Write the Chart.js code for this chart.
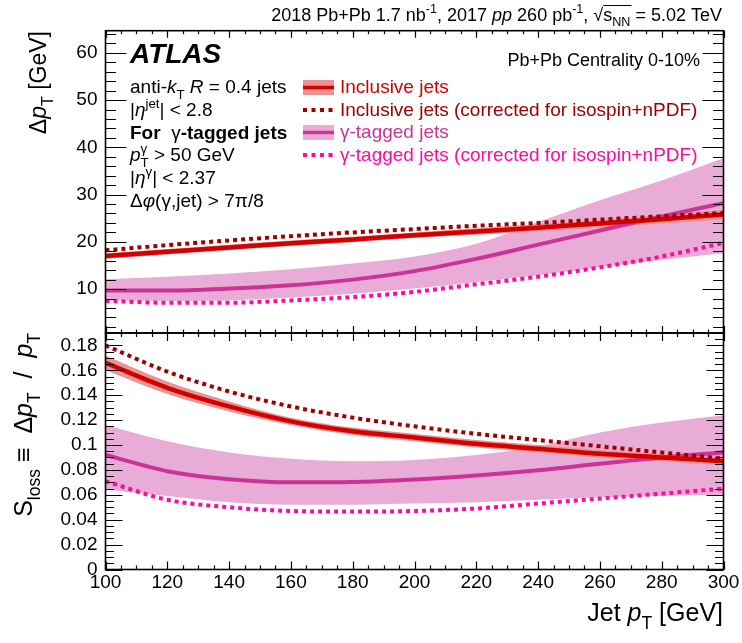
<!DOCTYPE html>
<html>
<head>
<meta charset="utf-8">
<script src="https://cdn.jsdelivr.net/npm/chart.js@4.4.0/dist/chart.umd.min.js"></script>
<style>
  html, body { margin: 0; padding: 0; background: #fff; width: 742px; height: 643px; overflow: hidden; }
  canvas { position: absolute; left: 0; }
  #top { top: 0; }
  #bot { top: 320px; }
</style>
</head>
<body>
<canvas id="top" width="742" height="340"></canvas>
<canvas id="bot" width="742" height="323"></canvas>
<script>
(() => {
  'use strict'

  // jet pT (GeV)
  const jetPt = [100, 120, 140, 160, 180, 200, 220, 240, 260, 280, 300]

  // top panel: delta pT (GeV)
  const inclTop     = [17.0, 17.9, 18.8, 19.7, 20.5, 21.4, 22.2, 23.0, 23.9, 24.8, 25.8]
  const inclTopLo   = [16.4, 17.3, 18.2, 19.1, 19.9, 20.8, 21.5, 22.3, 23.1, 23.9, 24.8]
  const inclTopHi   = [17.6, 18.5, 19.4, 20.3, 21.1, 22.0, 22.9, 23.7, 24.7, 25.7, 26.8]
  const inclCorrTop = [18.2, 19.3, 20.3, 21.2, 22.0, 22.7, 23.4, 24.0, 24.7, 25.4, 26.1]
  const gamTop      = [9.7, 9.7, 10.1, 10.8, 12.0, 13.8, 16.4, 19.4, 22.4, 25.4, 28.2]
  const gamTopLo    = [7.6, 7.5, 7.6, 8.2, 9.0, 10.1, 11.5, 12.9, 14.6, 16.2, 17.6]
  const gamTopHi    = [12.1, 12.6, 13.3, 14.2, 15.4, 16.9, 19.6, 24.2, 28.8, 33.0, 37.7]
  const gamCorrTop  = [7.5, 7.1, 7.1, 7.6, 8.3, 9.4, 11.0, 12.6, 14.6, 16.9, 19.8]

  // bottom panel: S_loss
  const inclBot     = [0.166, 0.146, 0.131, 0.119, 0.111, 0.106, 0.101, 0.097, 0.093, 0.090, 0.087]
  const inclBotLo   = [0.160, 0.141, 0.127, 0.116, 0.108, 0.103, 0.098, 0.094, 0.090, 0.087, 0.084]
  const inclBotHi   = [0.172, 0.151, 0.135, 0.122, 0.114, 0.109, 0.104, 0.100, 0.096, 0.093, 0.090]
  const inclCorrBot = [0.180, 0.159, 0.143, 0.131, 0.122, 0.115, 0.109, 0.104, 0.099, 0.094, 0.089]
  const gamBot      = [0.092, 0.079, 0.0725, 0.0700, 0.0703, 0.0723, 0.0755, 0.0797, 0.0850, 0.0900, 0.0940]
  const gamBotLo    = [0.064, 0.059, 0.054, 0.052, 0.052, 0.053, 0.054, 0.056, 0.058, 0.059, 0.060]
  const gamBotHi    = [0.116, 0.103, 0.094, 0.089, 0.087, 0.088, 0.092, 0.099, 0.110, 0.118, 0.124]
  const gamCorrBot  = [0.071, 0.056, 0.050, 0.047, 0.0465, 0.047, 0.049, 0.053, 0.057, 0.061, 0.065]

  // ticks
  const xTicks = [100, 120, 140, 160, 180, 200, 220, 240, 260, 280, 300]
  const yTopTicks = [10, 20, 30, 40, 50, 60]
  const yBotTicks = [0, 0.02, 0.04, 0.06, 0.08, 0.1, 0.12, 0.14, 0.16, 0.18]
  const yBotLabels = ['0', '0.02', '0.04', '0.06', '0.08', '0.1', '0.12', '0.14', '0.16', '0.18']

  const legendLabels = [
    'Inclusive jets',
    'Inclusive jets (corrected for isospin+nPDF)',
    'γ-tagged jets',
    'γ-tagged jets (corrected for isospin+nPDF)'
  ]

  const RED = '#d40000'
  const RED_BAND = '#e99393'
  const DRED = '#a00000'
  const MAG = '#cc3399'
  const MAG_BAND = '#e8acd6'
  const PINK = '#ff0aa0'
  const legendColors = [RED, DRED, MAG, PINK]

  const FF = '"Liberation Sans", Arial, sans-serif'
  const fnt = (size, st) =>
    (st.includes('i') ? 'italic ' : '') + (st.includes('b') ? 'bold ' : '') + size + 'px ' + FF

  // draw text made of pieces: i italic, b bold, _ sub, ^ sup, o no advance, v overline
  function rich(ctx, parts, x, y, size, color, align) {
    const segs = parts.map(p => {
      const st = p[1] || ''
      const s = (st.includes('_') || st.includes('^')) ? size * 0.7 : size
      ctx.font = fnt(s, st)
      return { t: p[0], st, s, w: ctx.measureText(p[0]).width }
    })
    let total = 0
    segs.forEach(g => { if (!g.st.includes('o')) total += g.w })
    let cx = align === 'right' ? x - total : x
    ctx.fillStyle = color
    ctx.strokeStyle = color
    ctx.textAlign = 'left'
    ctx.textBaseline = 'alphabetic'
    segs.forEach(g => {
      ctx.font = fnt(g.s, g.st)
      let dy = 0
      if (g.st.includes('_')) dy = size * 0.3
      if (g.st.includes('^')) dy = -size * 0.42
      ctx.fillText(g.t, cx, y + dy)
      if (g.st.includes('v')) {
        ctx.lineWidth = 1
        ctx.beginPath()
        ctx.moveTo(cx, y - size * 0.86)
        ctx.lineTo(cx + g.w + 1, y - size * 0.86)
        ctx.stroke()
      }
      if (!g.st.includes('o')) cx += g.w
    })
  }

  function richUp(ctx, parts, x, y, size) {
    ctx.save()
    ctx.translate(x, y)
    ctx.rotate(-Math.PI / 2)
    rich(ctx, parts, 0, 0, size, '#000', 'right')
    ctx.restore()
  }

  // ROOT-like frame with inward ticks on all four sides
  function drawFrame(chart, o) {
    const { ctx, chartArea: a, scales: { x, y } } = chart
    ctx.save()
    ctx.strokeStyle = '#000'
    ctx.lineWidth = 1.2
    ctx.beginPath()
    const yn0 = Math.ceil(y.min / o.yMinor - 1e-6)
    const yn1 = Math.floor(y.max / o.yMinor + 1e-6)
    for (let n = yn0; n <= yn1; n++) {
      const py = Math.round(y.getPixelForValue(n * o.yMinor)) + 0.5
      const len = n % o.yEvery === 0 ? o.yMajor : o.yMajor / 2
      ctx.moveTo(a.left, py); ctx.lineTo(a.left + len, py)
      ctx.moveTo(a.right, py); ctx.lineTo(a.right - len, py)
    }
    for (let n = 0; n <= 40; n++) {
      const px = Math.round(x.getPixelForValue(100 + n * 5)) + 0.5
      const len = n % 4 === 0 ? o.xMajor : o.xMajor / 2
      ctx.moveTo(px, a.bottom); ctx.lineTo(px, a.bottom - len)
      ctx.moveTo(px, a.top); ctx.lineTo(px, a.top + len)
    }
    ctx.stroke()
    ctx.lineWidth = 1.6
    ctx.strokeRect(a.left, a.top, a.right - a.left, a.bottom - a.top)
    ctx.restore()
  }

  const pts = ys => jetPt.map((x, i) => ({ x, y: ys[i] }))

  const datasets = (c, cc, cLo, cHi, g, gc, gLo, gHi) => [
    { data: pts(cc), borderColor: DRED, borderWidth: 4, borderDash: [4, 4], order: 0 },
    { data: pts(gc), borderColor: PINK, borderWidth: 4, borderDash: [4, 4], order: 0 },
    { data: pts(c), borderColor: RED, borderWidth: 4.5, order: 1 },
    { data: pts(g), borderColor: MAG, borderWidth: 4, order: 2 },
    { data: pts(cHi), borderWidth: 0, order: 3 },
    { data: pts(cLo), borderWidth: 0, fill: '-1', backgroundColor: RED_BAND, order: 3 },
    { data: pts(gHi), borderWidth: 0, order: 4 },
    { data: pts(gLo), borderWidth: 0, fill: '-1', backgroundColor: MAG_BAND, order: 4 }
  ]

  const common = {
    responsive: false,
    animation: false,
    events: [],
    elements: { point: { radius: 0 }, line: { cubicInterpolationMode: 'monotone', borderCapStyle: 'butt' } },
    plugins: { legend: { display: false }, tooltip: { enabled: false } }
  }
  const tickFont = { family: FF, size: 19 }
  // keep the plot frame exactly where the layout padding puts it
  const noPad = s => { s.paddingTop = 0; s.paddingBottom = 0; s.paddingLeft = 0; s.paddingRight = 0 }

  const topDecor = {
    id: 'topDecor',
    afterDatasetsDraw(chart) {
      drawFrame(chart, { yMinor: 2, yEvery: 5, yMajor: 21, xMajor: 7 })
    },
    afterDraw(chart) {
      const ctx = chart.ctx
      rich(ctx, [['2018 Pb+Pb 1.7 nb'], ['-1', '^'], [', 2017 '], ['pp', 'i'], [' 260 pb'], ['-1', '^'],
        [', '], ['√'], ['s', 'v'], ['NN', '_v'], [' = 5.02 TeV']], 722, 21, 18, '#000', 'right')

      ctx.font = 'italic bold 28px ' + FF
      ctx.fillStyle = '#000'
      ctx.fillText('ATLAS', 130, 63)
      rich(ctx, [['Pb+Pb Centrality 0-10%']], 700, 66, 18, '#000', 'right')

      const info = [
        [['anti-'], ['k', 'i'], ['T', '_'], [' '], ['R', 'i'], [' = 0.4 jets']],
        [['|'], ['η', 'i'], ['jet', '^'], ['| < 2.8']],
        [['For ', 'b'], [' γ'], ['-tagged jets', 'b']],
        [['p', 'i'], ['γ', '^o'], ['T', '_'], [' > 50 GeV']],
        [['|'], ['η', 'i'], ['γ', '^'], ['| < 2.37']],
        [['Δ'], ['φ', 'i'], ['(γ,jet) > 7π/8']]
      ]
      info.forEach((p, i) => rich(ctx, p, 130, 93 + i * 22.8, 19, '#000', 'left'))

      // legend
      legendLabels.forEach((lab, i) => {
        const by = 93 + i * 22.5
        const cy = by - 5.5
        ctx.save()
        if (i % 2 === 0) {
          ctx.fillStyle = i === 0 ? RED_BAND : MAG_BAND
          ctx.fillRect(303, cy - 7.5, 31, 15)
          ctx.strokeStyle = legendColors[i]
          ctx.lineWidth = 3.5
          ctx.beginPath(); ctx.moveTo(303, cy); ctx.lineTo(334, cy); ctx.stroke()
        } else {
          ctx.strokeStyle = legendColors[i]
          ctx.lineWidth = 4
          ctx.setLineDash([4, 4.5])
          ctx.beginPath(); ctx.moveTo(303, cy); ctx.lineTo(334, cy); ctx.stroke()
        }
        ctx.restore()
        rich(ctx, [[lab]], 340, by, 19, legendColors[i], 'left')
      })

      richUp(ctx, [['Δ'], ['p', 'i'], ['T', '_'], [' [GeV]']], 46, 31, 23)
    }
  }

  const botDecor = {
    id: 'botDecor',
    afterDatasetsDraw(chart) {
      drawFrame(chart, { yMinor: 0.005, yEvery: 4, yMajor: 17, xMajor: 8 })
    },
    afterDraw(chart) {
      const ctx = chart.ctx
      richUp(ctx, [['S'], ['loss', '_'], [' ≡  Δ'], ['p', 'i'], ['T', '_'], ['  /  '], ['p', 'i'], ['T', '_']], 32, 13, 25)
      rich(ctx, [['Jet '], ['p', 'i'], ['T', '_'], [' [GeV]']], 723, 301, 25, '#000', 'right')
    }
  }

  // eslint-disable-next-line no-unused-vars
  const topChart = new Chart(document.getElementById('top'), {
    type: 'line',
    data: { datasets: datasets(inclTop, inclCorrTop, inclTopLo, inclTopHi, gamTop, gamCorrTop, gamTopLo, gamTopHi) },
    options: Object.assign({}, common, {
      layout: { padding: { left: 0, right: 18.5, top: 30.7, bottom: 7 } },
      scales: {
        x: { type: 'linear', min: 100, max: 300, display: false },
        y: {
          type: 'linear', min: 0.7, max: 64.7,
          grid: { display: false, drawTicks: false },
          border: { display: false },
          afterFit: s => { s.width = 105.5; noPad(s) },
          afterBuildTicks: s => { s.ticks = yTopTicks.map(v => ({ value: v })) },
          ticks: { font: tickFont, color: '#000', padding: 8, autoSkip: false }
        }
      }
    }),
    plugins: [topDecor]
  })

  // eslint-disable-next-line no-unused-vars
  const botChart = new Chart(document.getElementById('bot'), {
    type: 'line',
    data: { datasets: datasets(inclBot, inclCorrBot, inclBotLo, inclBotHi, gamBot, gamCorrBot, gamBotLo, gamBotHi) },
    options: Object.assign({}, common, {
      layout: { padding: { left: 0, right: 18.5, top: 13, bottom: 0 } },
      scales: {
        x: {
          type: 'linear', min: 100, max: 300,
          grid: { display: false, drawTicks: false },
          border: { display: false },
          afterFit: s => { s.height = 73.5; noPad(s) },
          afterBuildTicks: s => { s.ticks = xTicks.map(v => ({ value: v })) },
          ticks: { font: tickFont, color: '#000', padding: 2, autoSkip: false, maxRotation: 0 }
        },
        y: {
          type: 'linear', min: 0, max: 0.19,
          grid: { display: false, drawTicks: false },
          border: { display: false },
          afterFit: s => { s.width = 105.5; noPad(s) },
          afterBuildTicks: s => { s.ticks = yBotTicks.map(v => ({ value: v })) },
          ticks: {
            font: tickFont, color: '#000', padding: 8, autoSkip: false,
            callback: v => yBotLabels[yBotTicks.findIndex(t => Math.abs(t - v) < 1e-9)]
          }
        }
      }
    }),
    plugins: [botDecor]
  })
})()
</script>
</body>
</html>
